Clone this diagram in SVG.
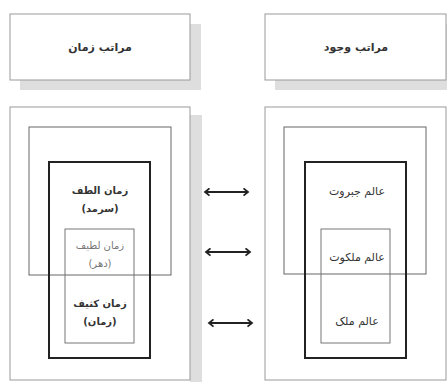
<svg xmlns="http://www.w3.org/2000/svg" width="447" height="382" viewBox="0 0 447 382">
<style>
.shadow{fill:#dedede;stroke:none}
.box{fill:#fff;stroke:#999;stroke-width:1}
.thin{fill:none;stroke:#666;stroke-width:1}
.thick{fill:none;stroke:#222;stroke-width:2}
.inner{fill:none;stroke:#777;stroke-width:1}
text{font-family:"DejaVu Sans",sans-serif;text-anchor:middle;fill:#333;direction:rtl}
.h{font-size:11px;font-weight:bold}
.t{font-size:10px;font-weight:bold}
.n{font-size:11px}
.l{font-size:10px;fill:#777}
.c{stroke:#222;stroke-width:2;fill:none}
</style>
<defs>
<marker id="ah" viewBox="0 0 10 10" refX="8" refY="5" markerWidth="9" markerHeight="9" orient="auto-start-reverse" markerUnits="userSpaceOnUse">
<polyline points="3,1 8,5 3,9" fill="none" stroke="#222" stroke-width="2"/>
</marker>
</defs>
<rect width="447" height="382" fill="#fff"/>
<g id="header-zaman">
<rect class="shadow" x="20" y="24" width="181" height="66"/>
<rect class="box" x="10" y="14" width="180" height="66"/>
<text class="h" x="100" y="51">مراتب  زمان</text>
</g>
<g id="header-wojud">
<rect class="shadow" x="275" y="24" width="172" height="66"/>
<rect class="box" x="265" y="14" width="181" height="66"/>
<text class="h" x="356" y="51">مراتب وجود</text>
</g>
<g id="panel-zaman">
<rect class="shadow" x="190" y="115" width="12" height="267"/>
<rect class="box" x="10" y="107" width="180" height="273"/>
<rect class="thin" x="29" y="127" width="142" height="148"/>
<rect class="thick" x="49" y="162" width="101" height="196"/>
<rect class="inner" x="65" y="229" width="69" height="114"/>
</g>
<g id="node-zaman-altaf">
<text class="t" x="100" y="194">زمان الطف</text>
<text class="t" x="100" y="212">(سرمد)</text>
</g>
<g id="node-zaman-latif">
<text class="l" x="100" y="249">زمان لطیف</text>
<text class="l" x="100" y="267">(دهر)</text>
</g>
<g id="node-zaman-kathif">
<text class="t" x="100" y="307">زمان کثیف</text>
<text class="t" x="100" y="325">(زمان)</text>
</g>
<g id="panel-wojud">
<rect class="box" x="265" y="107" width="181" height="273"/>
<rect class="thin" x="284" y="127" width="142" height="147"/>
<rect class="thick" x="305" y="162" width="101" height="196"/>
<rect class="inner" x="321" y="229" width="69" height="114"/>
</g>
<g id="node-jabarut"><text class="n" x="357" y="195">عالم جبروت</text></g>
<g id="node-malakut"><text class="n" x="357" y="261">عالم ملکوت</text></g>
<g id="node-molk"><text class="n" x="357" y="325">عالم ملک</text></g>
<g id="connectors">
<line class="c" x1="205" y1="192" x2="248" y2="192" marker-start="url(#ah)" marker-end="url(#ah)"/>
<line class="c" x1="206" y1="252" x2="250" y2="252" marker-start="url(#ah)" marker-end="url(#ah)"/>
<line class="c" x1="209" y1="323" x2="252" y2="323" marker-start="url(#ah)" marker-end="url(#ah)"/>
</g>
</svg>
